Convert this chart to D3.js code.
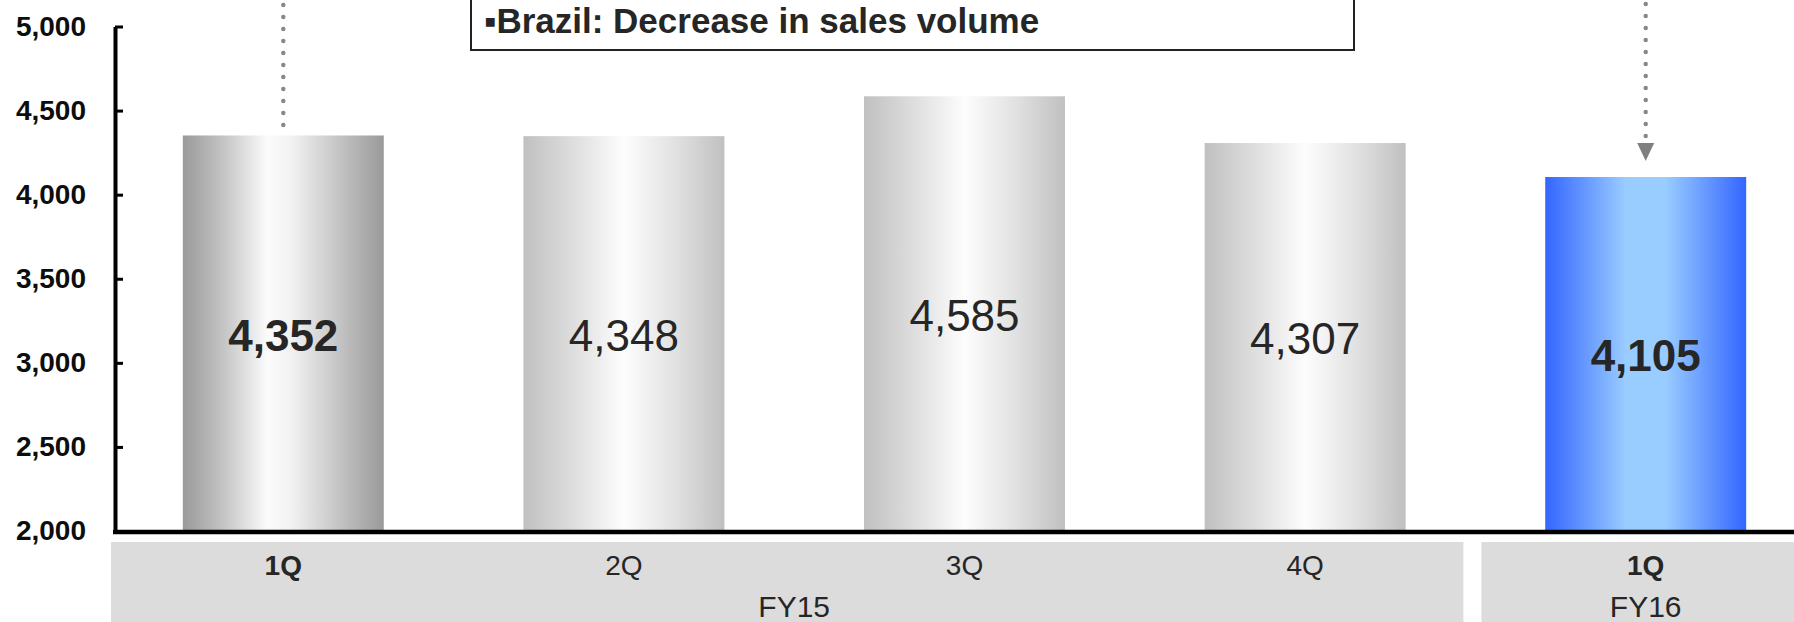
<!DOCTYPE html>
<html>
<head>
<meta charset="utf-8">
<script src="https://cdn.jsdelivr.net/npm/d3@7"></script>
<style>
  html, body { margin: 0; padding: 0; background: #fff; }
  svg { display: block; font-family: "Liberation Sans", Arial, sans-serif; }
</style>
</head>
<body>
<svg id="chart" width="1794" height="622"></svg>
<script>
// ---- data ----
const quarters = ["1Q", "2Q", "3Q", "4Q", "1Q"];
const fiscalYears = ["FY15", "FY15", "FY15", "FY15", "FY16"];
const sales = [4352, 4348, 4585, 4307, 4105];
const yTickValues = [2000, 2500, 3000, 3500, 4000, 4500, 5000];
const noteText = "\u25AABrazil: Decrease in sales volume";

// ---- setup ----
const W = 1794, H = 622;
const svg = d3.select("#chart");
const font = "'Liberation Sans', Arial, sans-serif";

const x = d3.scaleBand()
  .domain(d3.range(sales.length))
  .range([113, 1816])
  .paddingInner(0.41)
  .paddingOuter(0.205);

const y = d3.scaleLinear().domain([2000, 5000]).range([531, 26.5]);

// gradients
const defs = svg.append("defs");
function grad(id, stops) {
  const g = defs.append("linearGradient").attr("id", id)
    .attr("x1", "0%").attr("x2", "100%").attr("y1", "0%").attr("y2", "0%");
  stops.forEach(([o, c]) => g.append("stop").attr("offset", o).attr("stop-color", c));
}
grad("gDark", [[0, "#999999"], [0.2, "#c4c4c4"], [0.42, "#fbfbfb"], [0.54, "#f2f2f2"], [0.85, "#b6b6b6"], [1, "#9a9a9a"]]);
grad("gLight", [[0, "#c0c0c0"], [0.25, "#dedede"], [0.5, "#fdfdfd"], [0.75, "#e2e2e2"], [1, "#c0c0c0"]]);
grad("gBlue", [[0, "#3366ff"], [0.15, "#5a8cff"], [0.4, "#99ccff"], [0.6, "#99ccff"], [0.85, "#5a8cff"], [1, "#3366ff"]]);

function fillFor(i) {
  if (fiscalYears[i] !== fiscalYears[0]) return "url(#gBlue)";
  if (i === 0) return "url(#gDark)";
  return "url(#gLight)";
}

// ---- category band (grey boxes) ----
const groups = Array.from(d3.group(d3.range(sales.length), i => fiscalYears[i]), ([k, v]) => ({ key: k, idx: v }));
const gap = (x.step() - x.bandwidth()) / 2;
groups.forEach((g, gi) => {
  const first = g.idx[0], last = g.idx[g.idx.length - 1];
  let x0 = x(first) - gap, x1 = x(last) + x.bandwidth() + gap;
  x0 += gi === 0 ? -2 : 6;
  x1 = gi === groups.length - 1 ? W : x1 - 12;
  svg.append("rect")
    .attr("x", x0).attr("y", 542).attr("width", x1 - x0).attr("height", H - 542)
    .attr("fill", "#dcdcdc");
  svg.append("text")
    .attr("x", (x(first) - gap + x(last) + x.bandwidth() + gap) / 2)
    .attr("y", 606).attr("dy", "0.35em")
    .attr("text-anchor", "middle")
    .attr("font-size", 30).attr("fill", "#262626")
    .text(g.key);
});

svg.selectAll("text.q").data(quarters).join("text")
  .attr("class", "q")
  .attr("x", (d, i) => x(i) + x.bandwidth() / 2)
  .attr("y", 565).attr("dy", "0.35em")
  .attr("text-anchor", "middle")
  .attr("font-size", 28)
  .attr("font-weight", d => d === "1Q" ? "bold" : "normal")
  .attr("fill", "#262626")
  .text(d => d);

// ---- bars ----
svg.selectAll("rect.bar").data(sales).join("rect")
  .attr("class", "bar")
  .attr("x", (d, i) => x(i))
  .attr("y", d => y(d))
  .attr("width", x.bandwidth())
  .attr("height", d => y(2000) - y(d))
  .attr("fill", (d, i) => fillFor(i));

svg.selectAll("text.val").data(sales).join("text")
  .attr("class", "val")
  .attr("x", (d, i) => x(i) + x.bandwidth() / 2)
  .attr("y", d => (y(d) + y(2000)) / 2 + 2)
  .attr("dy", "0.35em")
  .attr("text-anchor", "middle")
  .attr("font-size", 44)
  .attr("font-weight", (d, i) => quarters[i] === "1Q" ? "bold" : "normal")
  .attr("fill", "#262626")
  .text(d => d3.format(",")(d));

// ---- axes ----
const yAxis = d3.axisLeft(y)
  .tickValues(yTickValues)
  .tickFormat(d3.format(","))
  .tickSizeInner(-8)
  .tickSizeOuter(0)
  .tickPadding(29);

const ga = svg.append("g").attr("transform", "translate(115,0)").call(yAxis);
ga.select(".domain").attr("stroke", "#000").attr("stroke-width", 4);
ga.selectAll(".tick line").attr("stroke", "#000").attr("stroke-width", 3);
ga.selectAll(".tick text")
  .attr("font-family", font)
  .attr("font-size", 28).attr("font-weight", "bold").attr("fill", "#0d0d0d");

svg.append("line")
  .attr("x1", 113).attr("x2", W)
  .attr("y1", y(2000) + 1).attr("y2", y(2000) + 1)
  .attr("stroke", "#000").attr("stroke-width", 4.5);

// ---- annotation ----
svg.append("rect")
  .attr("x", 471).attr("y", -10).attr("width", 883).attr("height", 60)
  .attr("fill", "#fff").attr("stroke", "#222").attr("stroke-width", 2);
svg.append("text")
  .attr("x", 484).attr("y", 33)
  .attr("font-size", 35).attr("font-weight", "bold").attr("fill", "#262626")
  .text(noteText);

// dotted connector lines
const cx0 = x(0) + x.bandwidth() / 2;
svg.append("line")
  .attr("x1", cx0).attr("x2", cx0)
  .attr("y1", 5).attr("y2", y(sales[0]))
  .attr("stroke", "#888").attr("stroke-width", 4.5)
  .attr("stroke-linecap", "round").attr("stroke-dasharray", "0 12");

const iLast = sales.length - 1;
const cxL = x(iLast) + x.bandwidth() / 2;
const tipY = y(sales[iLast]) - 16;
svg.append("line")
  .attr("x1", cxL).attr("x2", cxL)
  .attr("y1", 4).attr("y2", tipY - 24)
  .attr("stroke", "#888").attr("stroke-width", 4.5)
  .attr("stroke-linecap", "round").attr("stroke-dasharray", "0 12");
svg.append("path")
  .attr("d", `M${cxL - 8.5},${tipY - 18}L${cxL + 8.5},${tipY - 18}L${cxL},${tipY}Z`)
  .attr("fill", "#808080");
</script>
</body>
</html>
